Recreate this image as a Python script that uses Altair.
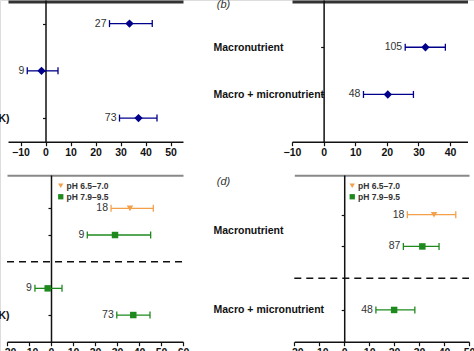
import altair as alt
import pandas as pd

FONT = "Liberation Sans, Arial, sans-serif"
W, H = 474, 351
NAVY = "#00008B"
ORANGE = "#F4A04A"
GREEN = "#1E8A1E"
INK = "#111111"

# ---------------- data ----------------
# Panel (a)
a_n = ["27", "9", "73"]
a_mean = [33.6, -1.6, 37.2]
a_lo = [25.6, -7.3, 29.6]
a_hi = [42.7, 5.0, 44.6]
a_row = [0.5, 1.5, 2.5]
a_xticks = [-10, 0, 10, 20, 30, 40, 50]
a_labels = ["Macronutrient (NPK)"]
a_label_pos = [2.5]

# Panel (b)
b_n = ["105", "48"]
b_mean = [32.2, 20.3]
b_lo = [25.8, 12.6]
b_hi = [38.5, 28.4]
b_row = [1, 2]
b_xticks = [-10, 0, 10, 20, 30, 40]
b_labels = ["Macronutrient", "Macro + micronutrient"]
b_label_pos = [1, 2]

# Panel (c)
ph_levels = ["pH 6.5–7.0", "pH 7.9–9.5"]
c_ph = [ph_levels[0], ph_levels[1], ph_levels[1], ph_levels[1]]
c_n = ["18", "9", "9", "73"]
c_mean = [35.9, 29.1, -1.5, 37.4]
c_lo = [27.3, 16.5, -7.3, 29.9]
c_hi = [46.5, 45.3, 5.0, 45.0]
c_row = [1.25, 2.25, 4.25, 5.25]
c_sep = [3.25]
c_xticks = [-20, -10, 0, 10, 20, 30, 40, 50, 60]
c_labels = ["Macronutrient (NPK)"]
c_label_pos = [5.25]

# Panel (d)
d_ph = [ph_levels[0], ph_levels[1], ph_levels[1]]
d_n = ["18", "87", "48"]
d_mean = [36.0, 31.3, 20.0]
d_lo = [25.3, 23.7, 12.7]
d_hi = [44.7, 38.0, 28.3]
d_row = [1.25, 2.25, 4.25]
d_sep = [3.25]
d_xticks = [-20, -10, 0, 10, 20, 30, 40, 50]
d_labels = ["Macronutrient", "Macro + micronutrient"]
d_label_pos = [1.75, 4.25]

# ---------------- layout (pixels) ----------------
GEOM = {
    "a": dict(xdom=[-15, 55], xrange=[8, 183], ydom=[0, 3], yrange=[0, 141.7], axis_y=141.7,
              top_y=1.5, top_w=3, top_color="#333333", label_x=9, label_align="right"),
    "b": dict(xdom=[-10, 45.5], xrange=[292, 467.5], ydom=[0, 3], yrange=[0, 141.7], axis_y=141.7,
              top_y=1.5, top_w=3, top_color="#333333", label_x=213, label_align="left",
              letter="(b)", letter_xy=(223, 2.5)),
    "c": dict(xdom=[-20, 60], xrange=[7, 183], ydom=[0, 6.25], yrange=[175, 341.7], axis_y=341.7,
              top_y=175.3, top_w=2, top_color="#888888", label_x=9, label_align="right",
              legend_xy=(56.5, 181.5)),
    "d": dict(xdom=[-20, 50], xrange=[294.3, 469], ydom=[0, 5.25], yrange=[175, 341.7], axis_y=341.7,
              top_y=175.3, top_w=2, top_color="#888888", label_x=213, label_align="left",
              letter="(d)", letter_xy=(223, 6), legend_xy=(348, 181.5)),
}


def label_expr(pos, names):
    parts = [f"datum.value == {p} ? '{n}'" for p, n in zip(pos, names)]
    return " : ".join(parts) + " : ''"


def make_panel(key, df, xticks, labels, label_pos, sep=None, shape_default="diamond"):
    g = GEOM[key]
    d0, d1 = g["xdom"]
    r0, r1 = g["xrange"]
    zero_px = r0 + (0 - d0) / (d1 - d0) * (r1 - r0)
    xs = alt.Scale(domain=g["xdom"], range=g["xrange"], nice=False, zero=False)
    ys = alt.Scale(domain=g["ydom"], range=g["yrange"], nice=False, zero=False)
    xax = alt.Axis(orient="bottom", offset=g["axis_y"] - H, values=xticks, title=None, grid=False,
                   domainColor=INK, domainWidth=1.5, tickColor=INK, tickWidth=1.2, tickSize=4,
                   labelFont=FONT, labelFontSize=10.5, labelFontWeight="bold", labelColor=INK,
                   labelPadding=1.5, labelFlush=False, labelOverlap=False, labelBound=False)
    yax = alt.Axis(orient="left", offset=-zero_px, values=list(df["row"]), labels=False, title=None,
                   grid=False, domainColor=INK, domainWidth=1.5, tickColor=INK, tickWidth=1.2, tickSize=3)

    def X(f):
        return alt.X(f, type="quantitative", scale=xs, axis=xax)

    Y = alt.Y("row:Q", scale=ys, axis=yax)
    base = alt.Chart(df)

    if "ph" in df.columns:
        lx, ly = g["legend_xy"]
        leg = alt.Legend(orient="none", legendX=lx, legendY=ly, title=None, labelFont=FONT,
                         labelFontSize=8.5, labelFontWeight="bold", labelColor="#333333",
                         symbolSize=28, symbolStrokeWidth=0, rowPadding=2, labelOffset=1.5, padding=0)
        cscale = alt.Scale(domain=ph_levels, range=[ORANGE, GREEN])
        sscale = alt.Scale(domain=ph_levels, range=["triangle-down", "square"])
        col_line = alt.Color("ph:N", scale=cscale, legend=None)
        pts = base.mark_point(filled=True, opacity=1, size=42).encode(
            x=X("mean"), y=Y,
            color=alt.Color("ph:N", scale=cscale, legend=leg),
            shape=alt.Shape("ph:N", scale=sscale, legend=leg))
    else:
        col_line = alt.value(NAVY)
        pts = base.mark_point(filled=True, opacity=1, size=70, shape=shape_default).encode(
            x=X("mean"), y=Y, color=alt.value(NAVY))

    bars = base.mark_rule(strokeWidth=1.3).encode(x=X("lo"), x2="hi", y=Y, color=col_line)
    cap_lo = base.mark_tick(orient="vertical", size=7, thickness=1.3, opacity=1).encode(
        x=X("lo"), y=Y, color=col_line)
    cap_hi = base.mark_tick(orient="vertical", size=7, thickness=1.3, opacity=1).encode(
        x=X("hi"), y=Y, color=col_line)
    txt = base.mark_text(align="right", baseline="middle", dx=-3, font=FONT, fontSize=10.5,
                         color="#333333").encode(x=X("lo"), y=Y, text="n:N")
    layers = [pts, bars, cap_lo, cap_hi, txt]
    if sep is not None:
        sep_df = pd.DataFrame({"row": sep, "x0": [d0] * len(sep), "x1": [d1] * len(sep)})
        layers.append(alt.Chart(sep_df).mark_rule(strokeDash=[7, 5], strokeWidth=1.5, color=INK).encode(
            x=X("x0"), x2="x1", y=Y))
    data_layer = alt.layer(*layers)

    # frame: top border (axis domain) + category labels + panel letter
    fdf = pd.DataFrame({"pos": label_pos, "xv": [0] * len(label_pos)})
    top_kwargs = dict(orient="top", offset=-g["top_y"], domainColor=g["top_color"], domainWidth=g["top_w"],
                      ticks=False, labels=False, grid=False)
    if "letter" in g:
        tx, ty = g["letter_xy"]
        top_kwargs.update(title=g["letter"], titleX=tx, titleY=ty, titleAlign="center",
                          titleBaseline="middle", titleAngle=0, titleFont=FONT, titleFontSize=11,
                          titleFontStyle="italic", titleFontWeight="normal", titleColor="#333333")
    else:
        top_kwargs.update(title=None)
    frame = alt.Chart(fdf).mark_point(opacity=0).encode(
        x=alt.X("xv:Q", scale=xs, axis=alt.Axis(**top_kwargs)),
        y=alt.Y("pos:Q", scale=ys, axis=alt.Axis(
            orient="left", offset=-g["label_x"], domain=False, ticks=False, tickSize=0, grid=False,
            values=label_pos, labelExpr=label_expr(label_pos, labels), labelAlign=g["label_align"],
            labelBaseline="middle", labelPadding=0, labelFont=FONT, labelFontSize=10.5,
            labelFontWeight="bold", labelColor=INK, labelOverlap=False, labelBound=False,
            labelLimit=300, title=None)),
    )
    return [data_layer, frame]


df_a = pd.DataFrame({"n": a_n, "mean": a_mean, "lo": a_lo, "hi": a_hi, "row": a_row})
df_b = pd.DataFrame({"n": b_n, "mean": b_mean, "lo": b_lo, "hi": b_hi, "row": b_row})
df_c = pd.DataFrame({"ph": c_ph, "n": c_n, "mean": c_mean, "lo": c_lo, "hi": c_hi, "row": c_row})
df_d = pd.DataFrame({"ph": d_ph, "n": d_n, "mean": d_mean, "lo": d_lo, "hi": d_hi, "row": d_row})

layers = []
layers += make_panel("a", df_a, a_xticks, a_labels, a_label_pos)
layers += make_panel("b", df_b, b_xticks, b_labels, b_label_pos)
layers += make_panel("c", df_c, c_xticks, c_labels, c_label_pos, sep=c_sep)
layers += make_panel("d", df_d, d_xticks, d_labels, d_label_pos, sep=d_sep)

chart = alt.layer(*layers).properties(
    width=W, height=H, padding=0,
    autosize=alt.AutoSizeParams(type="none"),
).resolve_scale(
    x="independent", y="independent", color="independent", shape="independent"
).resolve_axis(
    x="independent", y="independent"
).resolve_legend(
    color="independent", shape="independent"
).configure_view(stroke=None).configure(background="white")

chart.save("out.html", embed_options={"renderer": "svg", "actions": False})
